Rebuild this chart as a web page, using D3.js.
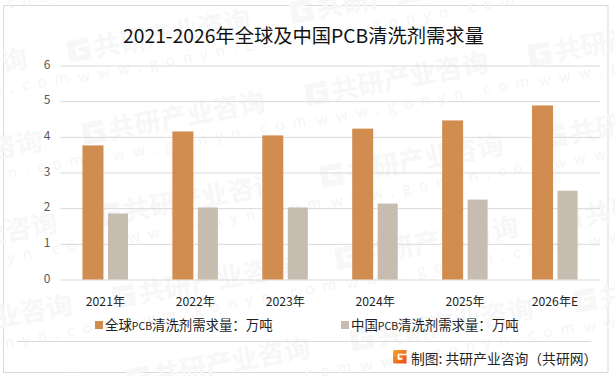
<!DOCTYPE html>
<html><head><meta charset="utf-8">
<script src="https://cdn.jsdelivr.net/npm/d3@7"></script>
<style>html,body{margin:0;padding:0;background:#fff}svg{display:block}text{font-family:"Noto Sans CJK SC","Noto Sans",sans-serif}</style>
</head><body><svg id="c" width="615" height="376"></svg>
<script>
const categories=["2021年","2022年","2023年","2024年","2025年","2026年E"];
const globalDemand=[3.76,4.15,4.04,4.23,4.46,4.88];
const chinaDemand=[1.85,2.02,2.02,2.13,2.24,2.49];
const yTicks=[0,1,2,3,4,5,6];
const seriesPrefix=["全球","中国"];
const seriesSuffix="清洗剂需求量：万吨";
const titleText="2021-2026年全球及中国PCB清洗剂需求量";
const sourceText="制图: 共研产业咨询（共研网）";
const wmName="共研产业咨询", wmUrl="www.gonyn.com";
const colors=["#D18C4F","#C6BCAF"];

const svg=d3.select("#c");
svg.append("rect").attr("width",615).attr("height",376).attr("fill","#fff");
svg.append("rect").attr("x",3.5).attr("y",5.5).attr("width",604.5).attr("height",367).attr("fill","none").attr("stroke","#d9d9d9").attr("stroke-width",1);

const x=d3.scaleBand().domain(categories).range([60.5,600]);
const y=d3.scaleLinear().domain([0,6]).range([279.5,65.5]);

// watermark lattice
const wm=svg.append("g").attr("class","watermark");
function logoG(g,s,fill){
  g.append("path").attr("fill",fill).attr("fill-rule","evenodd")
   .attr("d",`M${.12*s},0H${s}V${.28*s}H${.34*s}V${.72*s}H${.7*s}V${.58*s}H${.48*s}V${.38*s}H${s}V${s}H${.12*s}Q0,${s} 0,${.88*s}V${.12*s}Q0,0 ${.12*s},0Z`);
}
for(let i=-1;i<=3;i++)for(let j=-1;j<=4;j++){
  const px=70+223*i+15*j, py=63-39*i+82*j;
  if(px<-190||px>620||py<-10||py>430)continue;
  const g=wm.append("g").attr("transform",`translate(${px},${py}) rotate(-10.5)`);
  logoG(g.append("g").attr("transform","translate(0,-22)"),22,"#f7f7f7");
  g.append("text").attr("x",26).attr("y",-1).attr("font-size",26.5).attr("font-weight",700).attr("fill","#f7f7f7").text(wmName);
  g.append("text").attr("x",5).attr("y",21).attr("font-size",15).attr("letter-spacing",8.3).attr("fill","#f5f5f5").text(wmUrl);
}

// title
svg.append("text").attr("x",303.5).attr("y",42.5).attr("text-anchor","middle").attr("font-size",19.3).attr("fill","#111").text(titleText);

// grid + y axis
const yAxis=d3.axisLeft(y).tickValues(yTicks).tickSize(-539.5).tickFormat(d3.format("d"));
const yg=svg.append("g").attr("transform","translate(60.5,0)").call(yAxis);
yg.select(".domain").remove();
yg.selectAll("line").attr("stroke","#d9d9d9");
yg.selectAll("text").attr("x",-10).attr("dy",".22em").attr("font-size",12).attr("fill","#595959").style("font-family","Noto Sans CJK SC");

// bars
const bw=20.5,gap=5;
const bars=[globalDemand,chinaDemand];
bars.forEach((vals,k)=>{
  svg.append("g").selectAll("rect").data(vals).join("rect")
    .attr("x",(d,i)=>x(categories[i])+x.bandwidth()/2-bw-gap/2+k*(bw+gap))
    .attr("width",k?20:21)
    .attr("y",d=>y(d)).attr("height",d=>y(0)-y(d)).attr("fill",colors[k]);
});

// x axis
const xAxis=d3.axisBottom(x).tickSize(0);
const xg=svg.append("g").attr("transform","translate(0,279.5)").call(xAxis);
xg.select(".domain").remove();
xg.selectAll("text").attr("y",17.5).attr("dy",".72em").attr("font-size",12.2).attr("fill","#222");

// legend
const legX=[95,341];
seriesPrefix.forEach((n,k)=>{
  svg.append("rect").attr("x",legX[k]).attr("y",321).attr("width",8).attr("height",8).attr("fill",colors[k]);
  const t=svg.append("text").attr("x",legX[k]+10).attr("y",330).attr("font-size",13.4).attr("fill","#222");
  t.append("tspan").text(n);
  t.append("tspan").attr("font-size",10.5).text("PCB");
  t.append("tspan").text(seriesSuffix);
});

// footer
svg.append("line").attr("x1",17).attr("x2",591).attr("y1",341.5).attr("y2",341.5).attr("stroke","#d9d9d9");
const grad=svg.append("defs").append("linearGradient").attr("id","lg").attr("x1",0).attr("x2",1).attr("y1",0).attr("y2",1);
grad.append("stop").attr("offset",0).attr("stop-color","#F9A825");
grad.append("stop").attr("offset",1).attr("stop-color","#E8481C");
logoG(svg.append("g").attr("transform","translate(393,350)"),13.5,"url(#lg)");
svg.append("text").attr("x",411).attr("y",363.5).attr("font-size",13.8).attr("fill","#222").text(sourceText);
</script></body></html>
